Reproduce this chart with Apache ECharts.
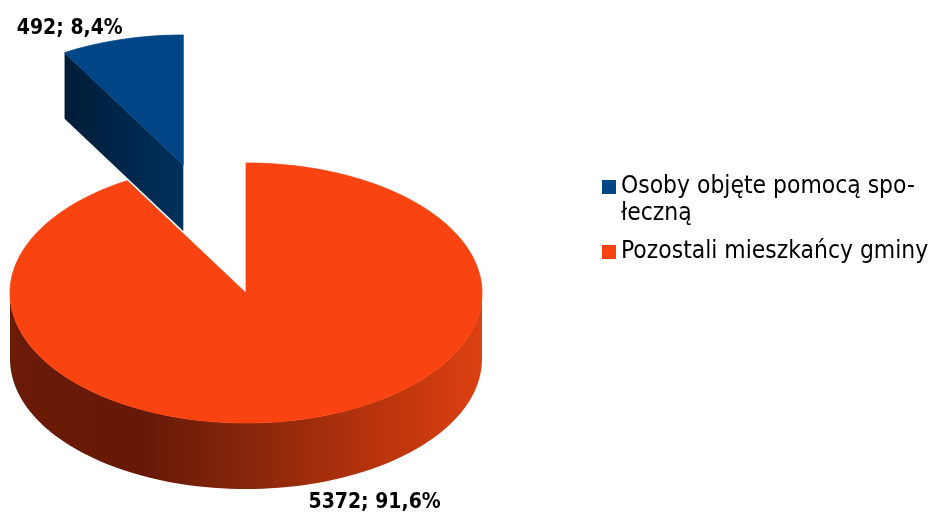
<!DOCTYPE html>
<html>
<head>
<meta charset="utf-8">
<script src="https://cdn.jsdelivr.net/npm/echarts@6/dist/echarts.min.js"></script>
<style>
  html, body { margin: 0; padding: 0; background: #fff; }
  #chart { width: 934px; height: 515px; }
</style>
</head>
<body>
<div id="chart"></div>
<script>
// data
const categories = ['Osoby objęte pomocą spo-\nłeczną', 'Pozostali mieszkańcy gminy'];
const values = [492, 5372];

// look
const topColors = ['#004586', '#f94311'];
const faceColors = [['#001d38', '#00305c'], ['#4a1204', '#7a2208']];
const wallStops = [
  [[0, '#001d38'], [1, '#00305c']],
  [[0, '#6b1b07'], [0.28, '#661906'], [0.5, '#86260a'], [0.78, '#b9340c'], [1, '#dc4010']]
];
const explodeIndex = 0;
const pie = { cx: 246, cy: 293, rx: 236, ry: 130, depth: 66, explode: 1.02 };
const fontName = '"DejaVu Sans Condensed", "DejaVu Sans", sans-serif';

const RAD = Math.PI / 180;
const total = values.reduce((a, b) => a + b, 0);

// angles counted counter-clockwise from 12 o'clock, first slice starts at the top
function sliceAngles(i) {
  let before = 0;
  for (let k = 0; k < i; k++) before += values[k];
  return [before / total * 360, (before + values[i]) / total * 360];
}

function pt(ox, oy, a, dy) {
  return [ox - pie.rx * Math.sin(a * RAD), oy - pie.ry * Math.cos(a * RAD) + dy];
}

function arcPts(ox, oy, a0, a1, dy) {
  const n = Math.max(2, Math.ceil(Math.abs(a1 - a0) / 2));
  const pts = [];
  for (let k = 0; k <= n; k++) pts.push(pt(ox, oy, a0 + (a1 - a0) * k / n, dy));
  return pts;
}

function gradient(stops) {
  return new echarts.graphic.LinearGradient(0, 0, 1, 0,
    stops.map(s => ({ offset: s[0], color: s[1] })));
}

function percentText(v) {
  return (v / total * 100).toFixed(1).replace('.', ',') + '%';
}

function makeRenderItem(i) {
  return function (params, api) {
    const v = api.value(0);
    const [a0, a1] = sliceAngles(i);
    const mid = (a0 + a1) / 2;
    let ox = pie.cx, oy = pie.cy;
    if (i === explodeIndex) {
      ox -= pie.explode * pie.rx * Math.sin(mid * RAD);
      oy -= pie.explode * pie.ry * Math.cos(mid * RAD);
    }
    const children = [];

    // front outer wall
    const w0 = Math.max(a0, 90), w1 = Math.min(a1, 270);
    if (w1 > w0) {
      const pts = arcPts(ox, oy, w0, w1, 0).concat(arcPts(ox, oy, w1, w0, pie.depth));
      children.push({ type: 'polygon', shape: { points: pts },
        style: { fill: gradient(wallStops[i]) } });
    }

    // cut faces that look toward the viewer
    [[a0, Math.sin(a0 * RAD) < -1e-6], [a1, Math.sin(a1 * RAD) > 1e-6]].forEach(([a, visible]) => {
      if (!visible) return;
      const e = pt(ox, oy, a, 0);
      const pts = [[ox, oy], e, [e[0], e[1] + pie.depth], [ox, oy + pie.depth]];
      children.push({ type: 'polygon', shape: { points: pts },
        style: { fill: gradient([[0, faceColors[i][0]], [1, faceColors[i][1]]]) } });
    });

    // top face (thin stroke closes the seam next to the exploded slice)
    children.push({ type: 'polygon',
      shape: { points: [[ox, oy]].concat(arcPts(ox, oy, a0, a1, 0)) },
      style: { fill: topColors[i], stroke: topColors[i], lineWidth: 0.8 } });

    // data label
    const front = Math.cos(mid * RAD) < 0;
    const anchor = pt(ox, oy, mid, front ? pie.depth : 0);
    const right = Math.sin(mid * RAD) < 0;
    children.push({ type: 'text',
      x: anchor[0] + 1,
      y: anchor[1] + (front ? 8 : 0),
      style: {
        text: v + '; ' + percentText(v),
        font: 'bold 21px ' + fontName,
        fill: '#000',
        align: right ? 'left' : 'right',
        verticalAlign: front ? 'top' : 'bottom'
      } });

    return { type: 'group', children: children };
  };
}

const legendBase = {
  orient: 'vertical',
  left: 602,
  padding: 0,
  icon: 'rect',
  itemWidth: 14,
  itemHeight: 14,
  selectedMode: false
};

const chart = echarts.init(document.getElementById('chart'), null, { renderer: 'canvas' });
chart.setOption({
  animation: false,
  backgroundColor: '#fff',
  legend: [
    Object.assign({}, legendBase, {
      data: [categories[0]],
      top: 180 - 33.5,
      // leading empty line keeps the icon level with the first text line
      formatter: name => '\n' + name,
      textStyle: { fontFamily: fontName, fontSize: 24.4, color: '#000', lineHeight: 27 }
    }),
    Object.assign({}, legendBase, {
      data: [categories[1]],
      top: 245 - 6.5,
      textStyle: { fontFamily: fontName, fontSize: 24.4, color: '#000', lineHeight: 27 }
    })
  ],
  series: categories.map((name, i) => ({
    type: 'custom',
    name: name,
    coordinateSystem: 'none',
    z: i === explodeIndex ? 3 : 2,
    itemStyle: { color: topColors[i] },
    data: [[values[i]]],
    renderItem: makeRenderItem(i)
  }))
});
</script>
</body>
</html>
